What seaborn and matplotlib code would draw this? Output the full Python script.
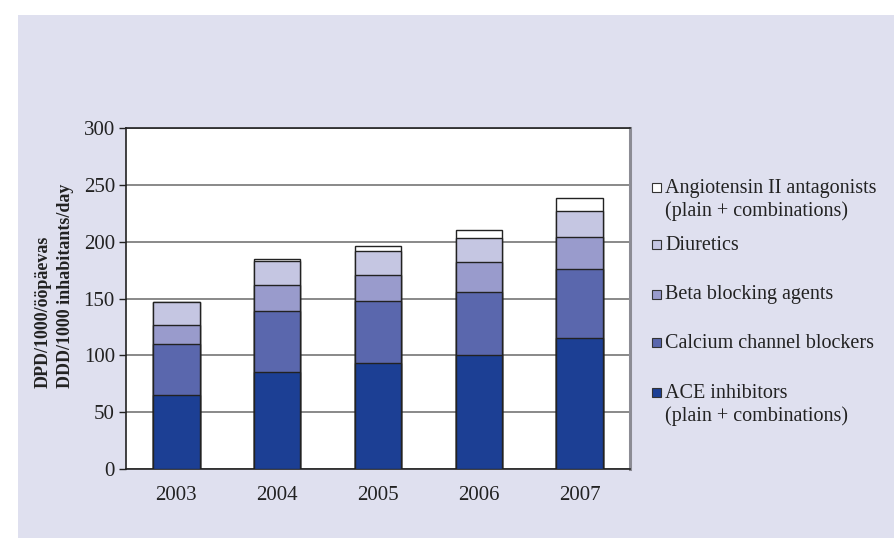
import numpy as np
import pandas as pd
import matplotlib
matplotlib.use("Agg")
import matplotlib.pyplot as plt
from matplotlib.patches import Rectangle
import seaborn as sns

years = ["2003", "2004", "2005", "2006", "2007"]
ace_inhibitors = [65, 85, 93, 100, 115]
calcium_blockers = [45, 54, 55, 56, 61]
beta_blockers = [17, 23, 23, 26, 28]
diuretics = [20, 21, 21, 21, 23]
angiotensin = [0, 2, 4, 7, 11]

series_names = [
    "ACE inhibitors\n(plain + combinations)",
    "Calcium channel blockers",
    "Beta blocking agents",
    "Diuretics",
    "Angiotensin II antagonists\n(plain + combinations)",
]
series_values = [ace_inhibitors, calcium_blockers, beta_blockers, diuretics, angiotensin]
colors = ["#1c3f94", "#5a67ad", "#999bcc", "#c5c6e2", "#ffffff"]
y_ticks = [0, 50, 100, 150, 200, 250, 300]

sns.set_style("white")
plt.rcParams["font.family"] = ["Liberation Serif", "DejaVu Serif"]

W, H = 895, 538
fig = plt.figure(figsize=(W / 100, H / 100), dpi=100, facecolor="white")
bg = "#dfe0ef"
fig.patches.append(Rectangle((18 / W, 0), 1 - 18 / W, (H - 15) / H,
                             transform=fig.transFigure, facecolor=bg,
                             edgecolor="none", zorder=-1))

ax = fig.add_axes([126 / W, (H - 469) / H, 504 / W, 341 / H])
ax.set_zorder(1)
ax.set_facecolor("white")

df = pd.DataFrame(dict(zip(series_names, series_values)), index=years)
cum = df.cumsum(axis=1)

# draw tallest cumulative layer first so lower layers sit on top
for name, color in reversed(list(zip(series_names, colors))):
    sns.barplot(x=years, y=cum[name].values, color=color, width=0.46,
                edgecolor="#222222", linewidth=1.0, saturation=1, ax=ax,
                zorder=3)

ax.set_ylim(0, 300)
ax.set_xlim(-0.5, 4.5)
ax.set_yticks(y_ticks)
ax.yaxis.grid(True, color="#808080", linewidth=1.3, zorder=0)
ax.set_axisbelow(True)
ax.set_xlabel("")
ax.set_ylabel("")

ax.set_xticks(np.arange(len(years)))
ax.set_xticklabels(years)
ax.set_xticks(np.arange(-0.5, len(years)), minor=True)
ax.tick_params(axis="x", which="major", length=0, pad=12, labelsize=15, colors="#222222")
ax.tick_params(axis="x", which="minor", length=5, width=1, direction="out", color="#222222")
ax.tick_params(axis="y", length=5, width=1, direction="out", pad=3, labelsize=15,
               colors="#222222", left=True)

for side in ["left", "bottom", "top"]:
    ax.spines[side].set_color("#222222")
    ax.spines[side].set_linewidth(1.2)
ax.spines["right"].set_color("#8c8c94")
ax.spines["right"].set_linewidth(2.2)

fig.text(54 / W, 1 - 286 / H, "DPD/1000/ööpäevas\nDDD/1000 inhabitants/day",
         rotation=90, ha="center", va="center", ma="left", fontsize=13,
         fontweight="bold", color="#222222", linespacing=1.4)

# legend, drawn by hand so the markers sit beside the first line
legend_y = [393, 343, 295, 245, 188]
line_h = 24
for name, color, ly in zip(series_names, colors, legend_y):
    fig.patches.append(Rectangle((652 / W, 1 - (ly + 4) / H), 9 / W, 9 / H,
                                 transform=fig.transFigure, facecolor=color,
                                 edgecolor="#333333", linewidth=0.8, zorder=5))
    n = name.count("\n")
    fig.text(665 / W, 1 - (ly + n * line_h / 2) / H, name, ha="left", va="center",
             fontsize=14.5, color="#222222", linespacing=1.2)

fig.savefig("out.png", dpi=100, facecolor="white")
